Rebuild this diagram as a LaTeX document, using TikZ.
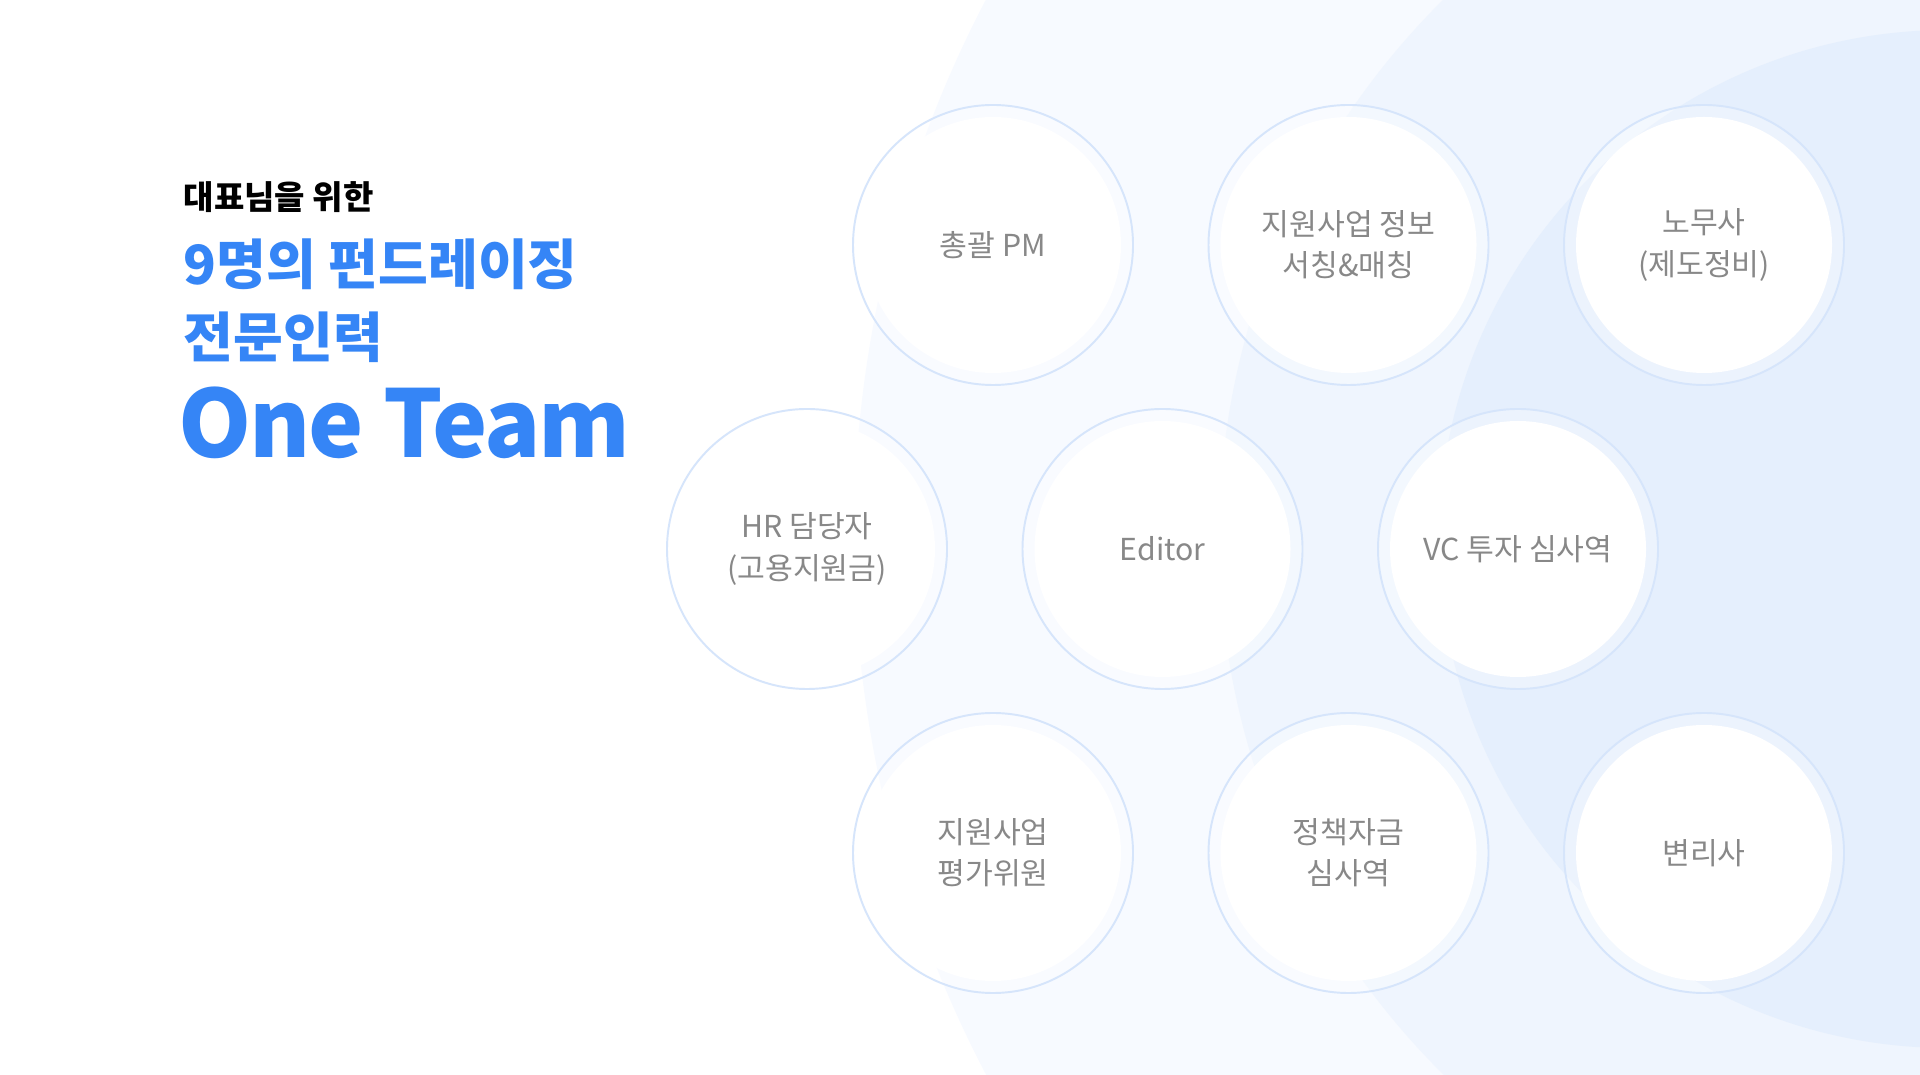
\documentclass[tikz,border=0pt]{standalone}
\usepackage{fontspec}
\setmainfont{Noto Sans CJK KR}
\usetikzlibrary{positioning}
\definecolor{cBrand}{HTML}{3585F6}
\definecolor{cLabel}{HTML}{888888}
\definecolor{cRing}{HTML}{D6E5FB}
\definecolor{cBgA}{HTML}{F7FAFF}
\definecolor{cBgB}{HTML}{EFF5FE}
\definecolor{cBgC}{HTML}{E5EFFD}

\begin{document}
\begin{tikzpicture}[
    ring/.style={circle, minimum size=2.8cm, draw=cRing, line width=0.55pt, fill=white, fill opacity=0.3, inner sep=0pt},
    disc/.style={circle, minimum size=2.56cm, fill=white, inner sep=0pt, align=center, text=cLabel, font=\fontsize{8.6}{11.7}\selectfont},
    head/.style={anchor=west, inner sep=0pt, font=\bfseries\fontsize{15.4}{20}\selectfont, text=cBrand}
]
\def\cw{3.555}
\def\rh{3.04}

% canvas and background arcs
\useasboundingbox (0,0) rectangle (19.2,-10.75);
\fill[white] (0,0) rectangle (19.2,-10.75);
\begin{scope}
\clip (0,0) rectangle (19.2,-10.75);
\fill[cBgA] (20.12,-5.37) circle (11.58);
\fill[cBgB] (19.75,-5.37) circle (7.56);
\fill[cBgC] (19.48,-5.39) circle (5.09);
\end{scope}

% title
\node[head, text=black, font=\bfseries\fontsize{9.4}{11}\selectfont] (lead) at (1.83,-1.97) {대표님을 위한};
\node[head] (headA) at (1.83,-2.64) {9명의 펀드레이징};
\node[head] (headB) at (1.83,-3.37) {전문인력};
\node[head, font=\bfseries\fontsize{26.5}{30}\selectfont\addfontfeature{LetterSpace=-2.5}] (oneteam) at (1.78,-4.23) {One Team};

% members, top row
\node[ring] (pmRing) at (9.93, -2.45) {};
\node[disc] (pm) at (pmRing) {총괄 PM};
\node[ring] (searchRing) at (9.93+\cw, -2.45) {};
\node[disc] (search) at (searchRing) {지원사업 정보\\서칭\&매칭};
\node[ring] (laborRing) at (9.93+2*\cw, -2.45) {};
\node[disc] (labor) at (laborRing) {노무사\\(제도정비)};

% middle row
\node[ring] (hrRing) at (8.07, -2.45-\rh) {};
\node[disc] (hr) at (hrRing) {HR 담당자\\(고용지원금)};
\node[ring] (editorRing) at (8.07+\cw, -2.45-\rh) {};
\node[disc] (editor) at (editorRing) {Editor};
\node[ring] (vcRing) at (8.07+2*\cw, -2.45-\rh) {};
\node[disc] (vc) at (vcRing) {VC 투자 심사역};

% bottom row
\node[ring] (judgeRing) at (9.93, -2.45-2*\rh) {};
\node[disc] (judge) at (judgeRing) {지원사업\\평가위원};
\node[ring] (policyRing) at (9.93+\cw, -2.45-2*\rh) {};
\node[disc] (policy) at (policyRing) {정책자금\\심사역};
\node[ring] (patentRing) at (9.93+2*\cw, -2.45-2*\rh) {};
\node[disc] (patent) at (patentRing) {변리사};

\end{tikzpicture}
\end{document}
